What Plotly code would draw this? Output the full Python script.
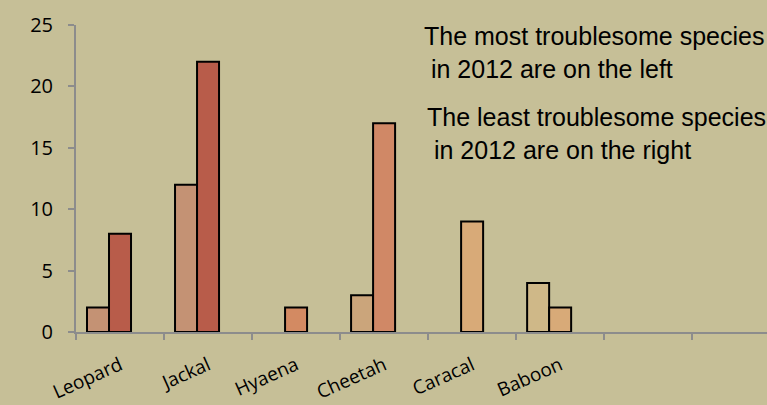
import plotly.graph_objects as go

categories = ["Leopard", "Jackal", "Hyaena", "Cheetah", "Caracal", "Baboon", " ", "  "]
series_a = [2, 12, None, 3, None, 4, None, None]
series_b = [8, 22, 2, 17, 9, 2, None, None]
series_c = [None, None, None, None, None, None, None, None]

colors_a = ["#c49274", "#c49274", "#d3b287", "#cba57b", "#d8aa78", "#cfb888", "#cfb888", "#cfb888"]
colors_b = ["#b85c4a", "#b85c4a", "#d38a62", "#d08866", "#d8aa78", "#d8aa78", "#d8aa78", "#d8aa78"]

y_ticks = [0, 5, 10, 15, 20, 25]

bg = "#c6bf97"
fig = go.Figure()
for name, vals, cols in [("2011", series_a, colors_a), ("2012", series_b, colors_b), ("2013", series_c, colors_b)]:
    fig.add_trace(go.Bar(
        x=categories, y=vals, name=name,
        marker=dict(color=cols, line=dict(color="#000000", width=2)),
    ))

fig.update_layout(
    width=767, height=405,
    margin=dict(l=76, r=0, t=25, b=73),
    paper_bgcolor=bg, plot_bgcolor=bg,
    barmode="group", bargap=0.25, bargroupgap=0,
    showlegend=False,
    xaxis=dict(
        type="category", range=[-0.5, 7.35], tickson="boundaries",
        showline=True, linecolor="#8c8c8c", linewidth=2,
        ticks="outside", ticklen=6, tickwidth=2, tickcolor="#8c8c8c",
        showgrid=False, tickangle=-24,
        tickfont=dict(family="Open Sans", size=19, color="#000000"),
        ticklabelstandoff=13,
    ),
    yaxis=dict(
        range=[0, 25], tickvals=y_ticks, showgrid=False, zeroline=False,
        showline=True, linecolor="#8c8c8c", linewidth=2,
        ticks="outside", ticklen=6, tickwidth=2, tickcolor="#8c8c8c",
        tickfont=dict(family="Open Sans", size=20, color="#000000"),
        ticklabelstandoff=11,
    ),
)

fig.add_annotation(
    xref="paper", yref="paper", x=(422 - 76) / 691, y=1.015, xanchor="left", yanchor="top",
    text="The most troublesome species<br> in 2012 are on the left", align="left", showarrow=False,
    font=dict(family="Liberation Sans", size=25, color="#000000"),
)
fig.add_annotation(
    xref="paper", yref="paper", x=(425 - 76) / 691, y=1.015 - 81 / 307, xanchor="left", yanchor="top",
    text="The least troublesome species<br> in 2012 are on the right", align="left", showarrow=False,
    font=dict(family="Liberation Sans", size=25, color="#000000"),
)

fig.write_html("out.html")
